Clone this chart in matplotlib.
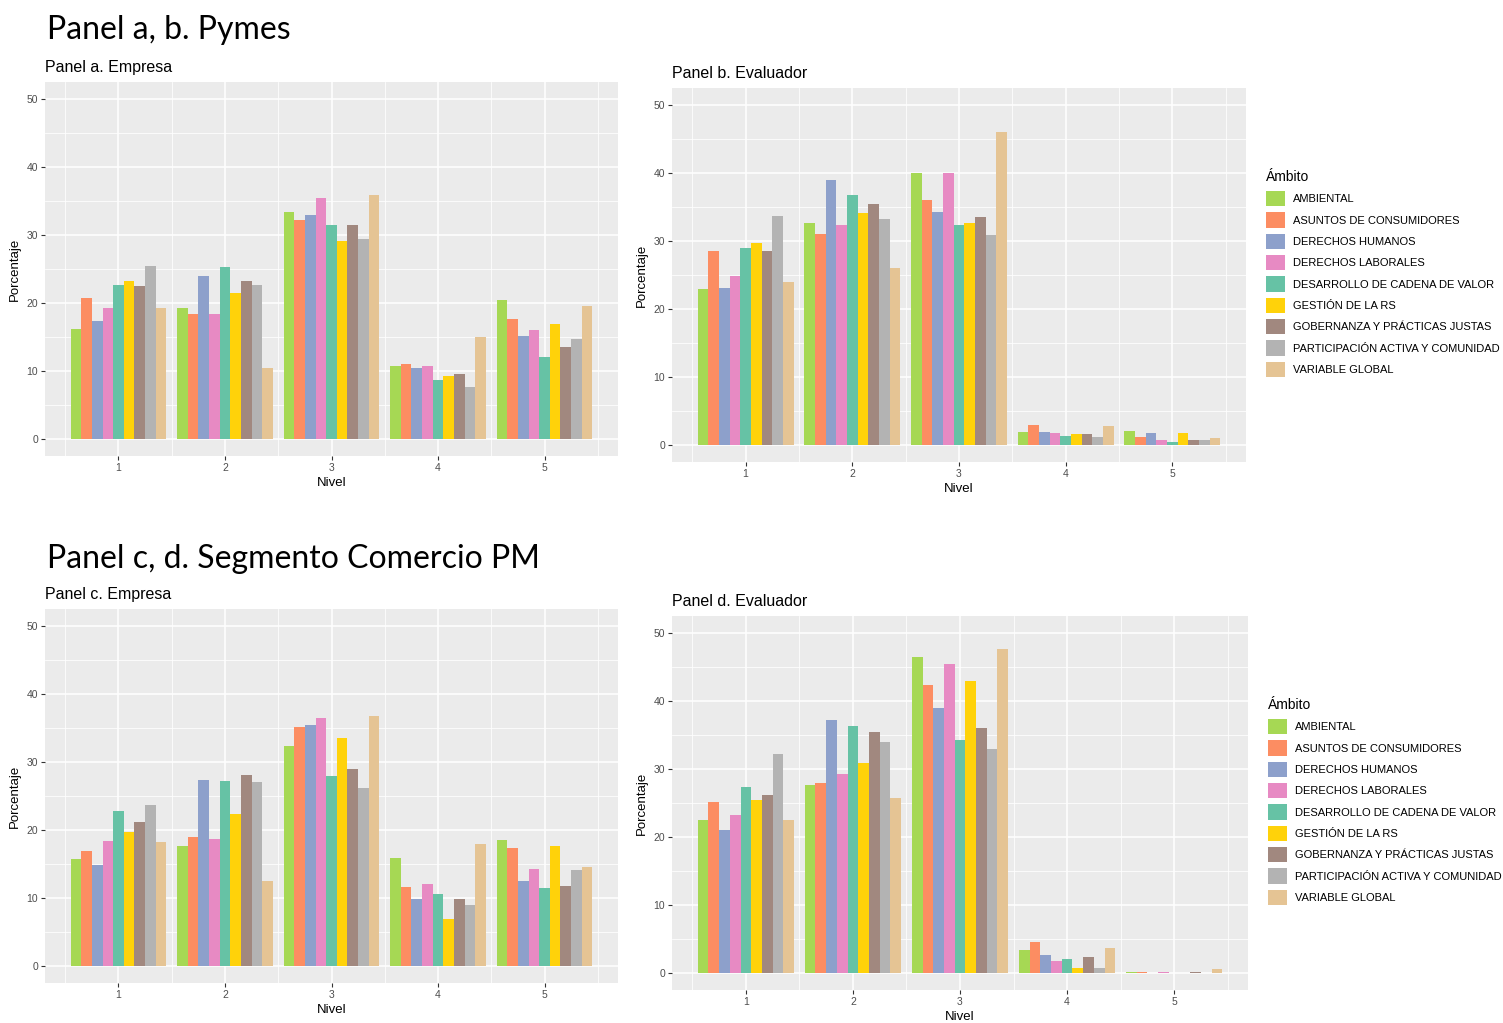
import numpy as np
import matplotlib
matplotlib.use("Agg")
import matplotlib.pyplot as plt
from matplotlib.patches import Patch

plt.rcParams['font.family'] = ['Liberation Sans', 'DejaVu Sans']

niveles = [1, 2, 3, 4, 5]
ambitos = ["AMBIENTAL", "ASUNTOS DE CONSUMIDORES", "DERECHOS HUMANOS",
           "DERECHOS LABORALES", "DESARROLLO DE CADENA DE VALOR",
           "GESTIÓN DE LA RS", "GOBERNANZA Y PRÁCTICAS JUSTAS",
           "PARTICIPACIÓN ACTIVA Y COMUNIDAD", "VARIABLE GLOBAL"]
colores = ["#A6D854", "#FC8D62", "#8DA0CB", "#E78AC3", "#66C2A5",
           "#FFD20A", "#A1887F", "#B3B3B3", "#E5C494"]

# rows = nivel 1..5, columns = ambito (same order as above)
pymes_empresa = [
    [16.2, 20.8, 17.3, 19.3, 22.6, 23.2, 22.5, 25.5, 19.2],
    [19.2, 18.4, 24.0, 18.4, 25.3, 21.5, 23.2, 22.7, 10.4],
    [33.4, 32.2, 33.0, 35.5, 31.4, 29.1, 31.4, 29.4, 35.9],
    [10.7, 11.0, 10.5, 10.7, 8.7, 9.3, 9.5, 7.7, 15.0],
    [20.4, 17.6, 15.2, 16.1, 12.0, 16.9, 13.5, 14.7, 19.5],
]
pymes_evaluador = [
    [23.0, 28.5, 23.1, 24.9, 28.9, 29.7, 28.5, 33.7, 24.0],
    [32.7, 31.0, 38.9, 32.3, 36.8, 34.1, 35.5, 33.3, 26.1],
    [40.0, 36.1, 34.3, 40.0, 32.4, 32.7, 33.5, 30.9, 46.1],
    [1.9, 3.0, 1.9, 1.8, 1.3, 1.6, 1.6, 1.2, 2.8],
    [2.1, 1.2, 1.8, 0.8, 0.4, 1.8, 0.8, 0.8, 1.0],
]
comercio_empresa = [
    [15.7, 16.9, 14.8, 18.4, 22.8, 19.7, 21.2, 23.7, 18.2],
    [17.6, 18.9, 27.4, 18.7, 27.2, 22.3, 28.1, 27.0, 12.5],
    [32.4, 35.2, 35.4, 36.4, 28.0, 33.5, 29.0, 26.2, 36.7],
    [15.9, 11.6, 9.8, 12.1, 10.6, 6.9, 9.8, 8.9, 17.9],
    [18.5, 17.4, 12.5, 14.3, 11.4, 17.6, 11.8, 14.1, 14.5],
]
comercio_evaluador = [
    [22.5, 25.1, 21.1, 23.2, 27.4, 25.4, 26.2, 32.2, 22.5],
    [27.6, 27.9, 37.2, 29.3, 36.3, 30.9, 35.5, 34.0, 25.7],
    [46.4, 42.3, 39.0, 45.5, 34.2, 43.0, 36.0, 33.0, 47.6],
    [3.4, 4.6, 2.7, 1.8, 2.1, 0.7, 2.4, 0.8, 3.7],
    [0.1, 0.2, 0.0, 0.2, 0.0, 0.0, 0.1, 0.0, 0.6],
]

W, H = 1503, 1023
fig = plt.figure(figsize=(W / 100, H / 100), dpi=100)


def px_axes(l, t, r, b):
    return fig.add_axes([l / W, 1 - b / H, (r - l) / W, (b - t) / H])


def panel(ax, datos, titulo):
    datos = np.array(datos)
    n = len(ambitos)
    ancho = 0.9 / n
    x = np.array(niveles, dtype=float)
    for k in range(n):
        ax.bar(x - 0.45 + ancho * (k + 0.5), datos[:, k], width=ancho,
               color=colores[k], linewidth=0, zorder=3)
    ax.set_facecolor("#EBEBEB")
    ax.set_xlim(0.31, 5.69)
    ax.set_ylim(-2.5, 52.5)
    ax.set_xticks(niveles)
    ax.set_yticks([0, 10, 20, 30, 40, 50])
    ax.set_xticks(np.arange(0.5, 6, 1), minor=True)
    ax.set_yticks(np.arange(5, 50, 10), minor=True)
    ax.grid(which="major", color="white", linewidth=1.1, zorder=0)
    ax.grid(which="minor", color="white", linewidth=0.55, zorder=0)
    ax.set_axisbelow(True)
    for s in ax.spines.values():
        s.set_visible(False)
    ax.tick_params(which="major", length=3, width=0.8, color="#333333",
                   labelsize=7.5, labelcolor="#4D4D4D", pad=2)
    ax.tick_params(which="minor", length=0)
    ax.set_xlabel("Nivel", fontsize=9.5, labelpad=3)
    ax.set_ylabel("Porcentaje", fontsize=9.5, labelpad=4)
    ax.set_title(titulo, loc="left", fontsize=11.5, pad=7)


ax_a = px_axes(45, 82, 618, 456)
panel(ax_a, pymes_empresa, "Panel a. Empresa")
ax_b = px_axes(672, 88, 1246, 462)
panel(ax_b, pymes_evaluador, "Panel b. Evaluador")
ax_c = px_axes(45, 609, 618, 983)
panel(ax_c, comercio_empresa, "Panel c. Empresa")
ax_d = px_axes(672, 616, 1248, 990)
panel(ax_d, comercio_evaluador, "Panel d. Evaluador")

fig.text(47 / W, 1 - 30 / H, "Panel a, b. Pymes", fontsize=23,
         family="Lato", va="center", ha="left")
fig.text(47 / W, 1 - 559 / H, "Panel c, d. Segmento Comercio PM", fontsize=23,
         family="Lato", va="center", ha="left")

handles = [Patch(facecolor=c, edgecolor="none") for c in colores]
for ax, (lx, ly) in [(ax_b, (1266, 170)), (ax_d, (1268, 698))]:
    leg = fig.legend(handles, ambitos, loc="upper left",
                     bbox_to_anchor=(lx / W, 1 - ly / H), frameon=False,
                     title="Ámbito", title_fontsize=10, fontsize=8,
                     handlelength=1.75, handleheight=1.75, labelspacing=0.54,
                     handletextpad=0.7, borderaxespad=0, borderpad=0)
    leg._legend_box.align = "left"
    leg._legend_box.sep = 5

fig.savefig("out.png", dpi=100)
